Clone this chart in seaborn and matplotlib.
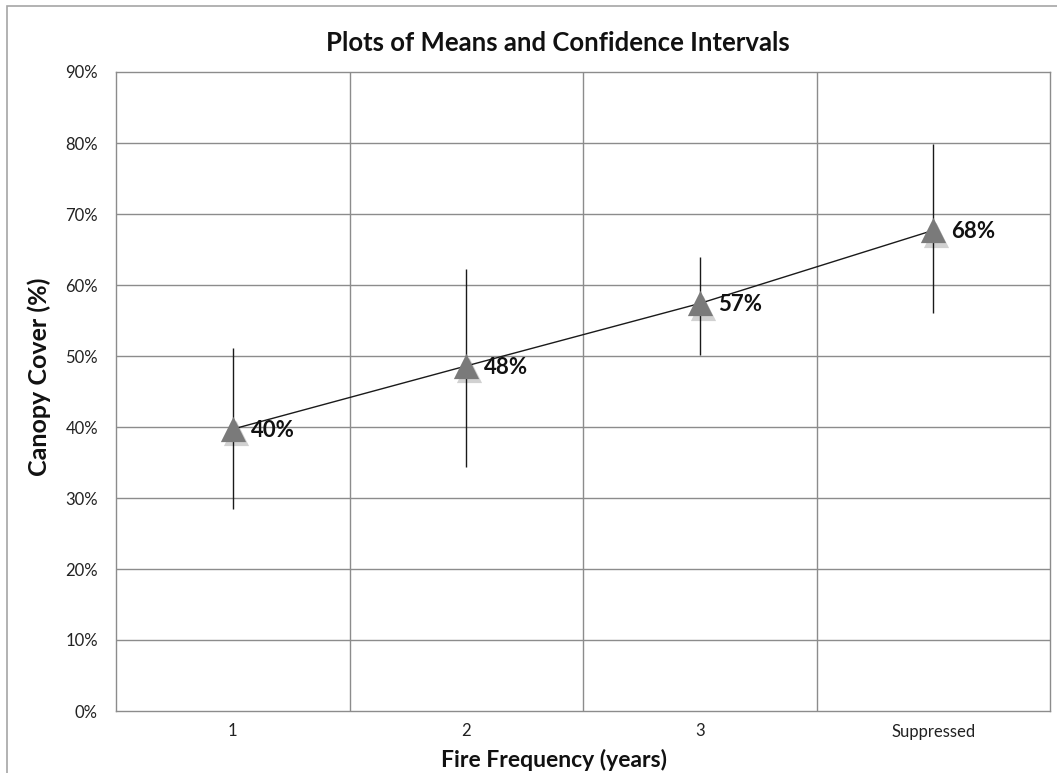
import numpy as np
import pandas as pd
import matplotlib
matplotlib.use("Agg")
import matplotlib.pyplot as plt
import matplotlib.patches as mpatches
import seaborn as sns

categories = ["1", "2", "3", "Suppressed"]
means = [0.397, 0.486, 0.574, 0.677]
ci_low = [0.285, 0.344, 0.501, 0.561]
ci_high = [0.511, 0.623, 0.639, 0.799]
labels = ["40%", "48%", "57%", "68%"]
yticks = [0, 0.1, 0.2, 0.3, 0.4, 0.5, 0.6, 0.7, 0.8, 0.9]
ytick_labels = ["0%", "10%", "20%", "30%", "40%", "50%", "60%", "70%", "80%", "90%"]

sns.set_theme(style="white")
plt.rcParams["font.family"] = ["Lato", "DejaVu Sans"]

df = pd.DataFrame({"pos": np.arange(len(categories)), "cat": categories, "mean": means})

fig = plt.figure(figsize=(10.57, 7.73), dpi=100)
fig.patch.set_facecolor("white")
# outer chart border
fig.patches.append(mpatches.Rectangle((7 / 1057, -0.01), 1.02, 1 - 6 / 773 + 0.01,
                                      transform=fig.transFigure, fill=False,
                                      edgecolor="#a6a6a6", linewidth=1.2))

ax = fig.add_axes([116 / 1057, 1 - 711 / 773, (1050 - 116) / 1057, (711 - 72) / 773])

grid_c = "#8c8c8c"
for y in yticks[1:-1]:
    ax.axhline(y, color=grid_c, linewidth=1.0, zorder=0)
for x in [0.5, 1.5, 2.5]:
    ax.axvline(x, color=grid_c, linewidth=1.0, zorder=0)

# confidence intervals
ax.vlines(df["pos"], ci_low, ci_high, color="#1a1a1a", linewidth=1.0, zorder=2)

# mean line
sns.lineplot(data=df, x="pos", y="mean", ax=ax, color="#1a1a1a", linewidth=1.0,
             zorder=3, legend=False)

# marker shadow
ax.scatter(df["pos"] + 0.012, np.array(means) - 0.006, marker="^", s=330,
           color="#000000", alpha=0.18, linewidths=0, zorder=3.5)
# markers
sns.scatterplot(data=df, x="pos", y="mean", ax=ax, marker="^", s=330,
                color="#7a7a7a", edgecolor="#7a7a7a", linewidth=0, zorder=4, legend=False)

for xp, m, lab in zip(df["pos"], means, labels):
    ax.annotate(lab, (xp, m), xytext=(13, -1), textcoords="offset points",
                ha="left", va="center", fontsize=16, fontweight="bold", color="#111111",
                zorder=5)

ax.set_xlim(-0.5, len(categories) - 0.5)
ax.set_ylim(0, 0.9)
ax.set_yticks(yticks)
ax.set_yticklabels(ytick_labels)
ax.set_xticks(df["pos"])
ax.set_xticklabels(categories)
ax.tick_params(axis="both", length=0, labelsize=12, colors="#222222")
ax.tick_params(axis="y", pad=13)
ax.tick_params(axis="x", pad=9)
for s in ax.spines.values():
    s.set_color(grid_c)
    s.set_linewidth(1.0)

ax.set_xlabel("Fire Frequency (years)", fontsize=16.5, fontweight="bold", color="#111111",
              labelpad=7, x=0.469)
ax.set_ylabel("Canopy Cover (%)", fontsize=18, fontweight="bold", color="#111111",
              labelpad=10, y=0.523)
ax.set_title("Plots of Means and Confidence Intervals", fontsize=18.5, fontweight="bold",
             color="#111111", pad=15, x=0.473)

fig.savefig("out.png", dpi=100, facecolor="white")
